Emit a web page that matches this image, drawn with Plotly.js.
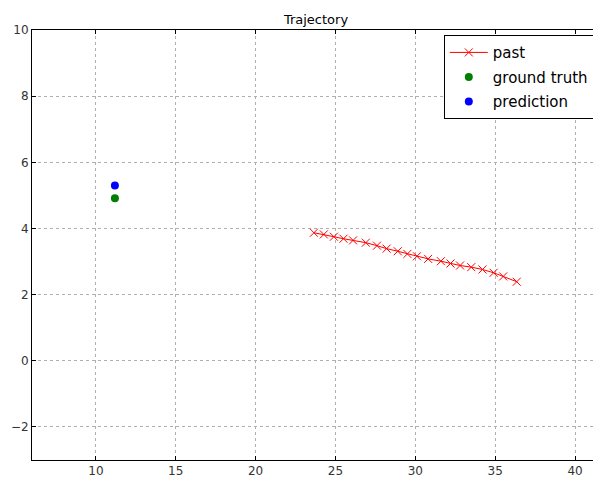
<!DOCTYPE html>
<html><head><meta charset="utf-8">
<script src="https://cdn.plot.ly/plotly-3.0.1.min.js"></script>
<style>html,body{margin:0;padding:0;overflow:hidden;background:#fff;width:593px;height:481px}</style>
</head><body><div id="chart"></div>
<script>
const pastX = [23.65,24.27,24.9,25.5,26.1,26.9,27.6,28.2,28.9,29.5,30.1,30.8,31.6,32.2,32.8,33.5,34.2,34.9,35.5,36.35];
const pastY = [3.87,3.82,3.75,3.69,3.64,3.57,3.48,3.39,3.31,3.23,3.16,3.08,3.01,2.94,2.88,2.83,2.76,2.66,2.55,2.39];
const truthX = [11.19];
const truthY = [4.91];
const predX = [11.19];
const predY = [5.30];
const xTicks = [10,15,20,25,30,35,40];
const yTicks = [-2,0,2,4,6,8,10];

const traces = [
  {x: pastX, y: pastY, name: 'past', type: 'scatter', mode: 'lines+markers', legendgroup: 'a',
   line: {color: '#ff0000', width: 1},
   marker: {symbol: 'x-thin', size: 8, line: {color: '#ff0000', width: 1}, color: '#ff0000'}},
  {x: truthX, y: truthY, name: 'ground truth', type: 'scatter', mode: 'markers', legendgroup: 'b',
   marker: {symbol: 'circle', size: 8, color: '#007f00', line: {width: 0}}},
  {x: predX, y: predY, name: 'prediction', type: 'scatter', mode: 'markers', legendgroup: 'c',
   marker: {symbol: 'circle', size: 8, color: '#0000ff', line: {width: 0}}}
];

const axisCommon = {
  showgrid: true, gridcolor: '#b0b0b0', griddash: 'dot', gridwidth: 1,
  zeroline: false, showline: true, linecolor: '#000', linewidth: 1,
  ticks: 'inside', ticklen: 4, tickcolor: '#000',
  tickfont: {family: 'DejaVu Sans', size: 12, color: '#333'}
};

const layout = {
  width: 600, height: 481,
  margin: {l: 32, r: 0, t: 30, b: 21, pad: 0},
  paper_bgcolor: '#fff', plot_bgcolor: '#fff',
  title: {text: 'Trajectory', font: {family: 'DejaVu Sans', size: 13, color: '#000'},
          x: 0.5, xref: 'paper', y: 1, yref: 'paper', yanchor: 'bottom', pad: {b: 6}},
  xaxis: Object.assign({}, axisCommon, {range: [6, 41.56], tickvals: xTicks, mirror: 'allticks'}),
  yaxis: Object.assign({}, axisCommon, {range: [-3, 10], tickvals: yTicks, mirror: false}),
  showlegend: true,
  legend: {x: 0.725, y: 0.988, xanchor: 'left', yanchor: 'top',
           bgcolor: '#fff', bordercolor: '#000', borderwidth: 1, tracegroupgap: 2,
           font: {family: 'DejaVu Sans', size: 15, color: '#000'}, itemwidth: 38}
};

Plotly.newPlot('chart', traces, layout, {displayModeBar: false, staticPlot: true});
</script></body></html>
